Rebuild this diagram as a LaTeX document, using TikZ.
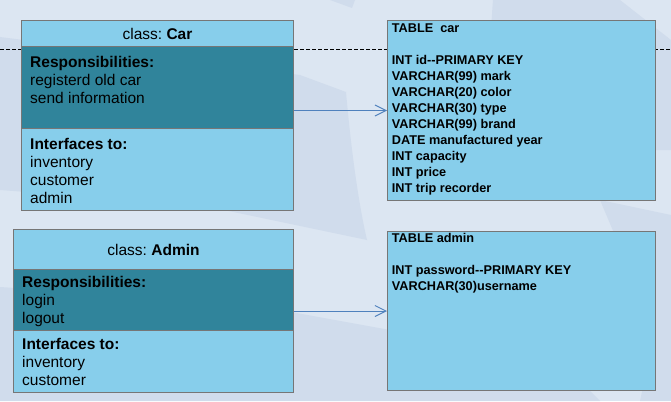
\documentclass[tikz,border=0pt]{standalone}
\usepackage{fontspec}
\setmainfont{Liberation Sans}
\frenchspacing
\usetikzlibrary{arrows.meta}

\definecolor{bgbase}{HTML}{DCE6F2}
\definecolor{bgshade}{HTML}{D0DCEC}
\definecolor{boxlight}{HTML}{87CEEB}
\definecolor{boxdark}{HTML}{30849B}
\definecolor{boxline}{HTML}{767676}
\definecolor{linkblue}{HTML}{4F81BD}

\tikzset{
  cell/.style={draw=boxline, line width=1pt, anchor=north west, inner sep=0pt},
  lightcell/.style={cell, fill=boxlight},
  darkcell/.style={cell, fill=boxdark},
  headtext/.style={font=\fontsize{15.5}{18}\selectfont, inner sep=0pt},
  bodytext/.style={font=\fontsize{15.5}{18}\selectfont, align=left, anchor=north west, inner sep=0pt},
  tabletext/.style={font=\fontsize{12.7}{16}\selectfont\bfseries, align=left, anchor=north west, inner sep=0pt},
  link/.style={draw=linkblue, line width=1pt, -{Straight Barb[length=11pt,width=11pt,line width=1pt]}},
  rule/.style={draw=black, line width=0.8pt, dash pattern=on 4pt off 2pt}
}

\begin{document}
\begin{tikzpicture}[x=1pt, y=-1pt]
  % page background with soft swooshes
  \fill[bgbase] (0,0) rectangle (671,401);
  \useasboundingbox (0,0) rectangle (671,401);
  \fill[bgshade] (0,37) -- (300,75) -- (346,92) .. controls (352,160) and (360,210) .. (367,240)
        -- (200,205) -- (0,190) -- cycle;
  \fill[bgshade] (0,287) -- (200,300) -- (280,310) -- (390,330) -- (560,360)
        -- (600,401) -- (0,401) -- cycle;
  \fill[bgshade] (493,0) -- (620,0) -- (671,40) -- (671,150) -- (560,150)
        .. controls (500,140) and (485,100) .. (493,0) -- cycle;
  \fill[bgshade] (330,0) -- (355,0) -- (352,8) -- cycle;
  \fill[bgshade] (600,200) -- (671,215) -- (671,401) -- (640,401) -- (655,330) -- cycle;

  % dashed separator running behind the boxes
  \coordinate (ruleL) at (0,49);
  \coordinate (ruleR) at (671,49);
  \draw[rule] (ruleL) -- (ruleR);

  % class Car
  \node[lightcell, minimum width=272pt, minimum height=26pt] (carhead) at (21,20) {};
  \node[headtext] (carname) at (carhead.center) {class: \textbf{Car}};
  \node[darkcell, minimum width=272pt, minimum height=82pt] (carresp) at (21,46) {};
  \node[bodytext] (carresptext) at (30,54.9)
    {\strut\textbf{Responsibilities:}\\registerd old car\\send information};
  \node[lightcell, minimum width=272pt, minimum height=82pt] (carif) at (21,128) {};
  \node[bodytext] (cariftext) at (30,136.4)
    {\strut\textbf{Interfaces to:}\\inventory\\customer\\admin};

  % table car
  \node[lightcell, minimum width=268pt, minimum height=180pt] (cartable) at (387,20) {};
  \node[tabletext] (cartabletext) at (391.7,21.3)
    {\strut TABLE\ \ car\\ \strut\\INT id-{}-PRIMARY KEY\\VARCHAR(99) mark\\VARCHAR(20) color\\
     VARCHAR(30) type\\VARCHAR(99) brand\\DATE manufactured year\\INT capacity\\INT price\\
     INT trip recorder};

  % class Admin
  \node[lightcell, minimum width=280pt, minimum height=40pt] (adminhead) at (13,229) {};
  \node[headtext] (adminname) at (adminhead.center) {class: \textbf{Admin}};
  \node[darkcell, minimum width=280pt, minimum height=61pt] (adminresp) at (13,269) {};
  \node[bodytext] (adminresptext) at (22,274.9)
    {\strut\textbf{Responsibilities:}\\login\\logout};
  \node[lightcell, minimum width=280pt, minimum height=62pt] (adminif) at (13,330) {};
  \node[bodytext] (adminiftext) at (22,336.9)
    {\strut\textbf{Interfaces to:}\\inventory\\customer};

  % table admin
  \node[lightcell, minimum width=268pt, minimum height=159pt] (admintable) at (387,231) {};
  \node[tabletext] (admintabletext) at (391.7,231.3)
    {\strut TABLE admin\\ \strut\\INT password-{}-PRIMARY KEY\\VARCHAR(30)username};

  % mappings from classes to tables
  \draw[link] (cartable.west -| carresp.east) -- (cartable.west);
  \draw[link] (admintable.west -| adminresp.east) -- (admintable.west);
\end{tikzpicture}
\end{document}
